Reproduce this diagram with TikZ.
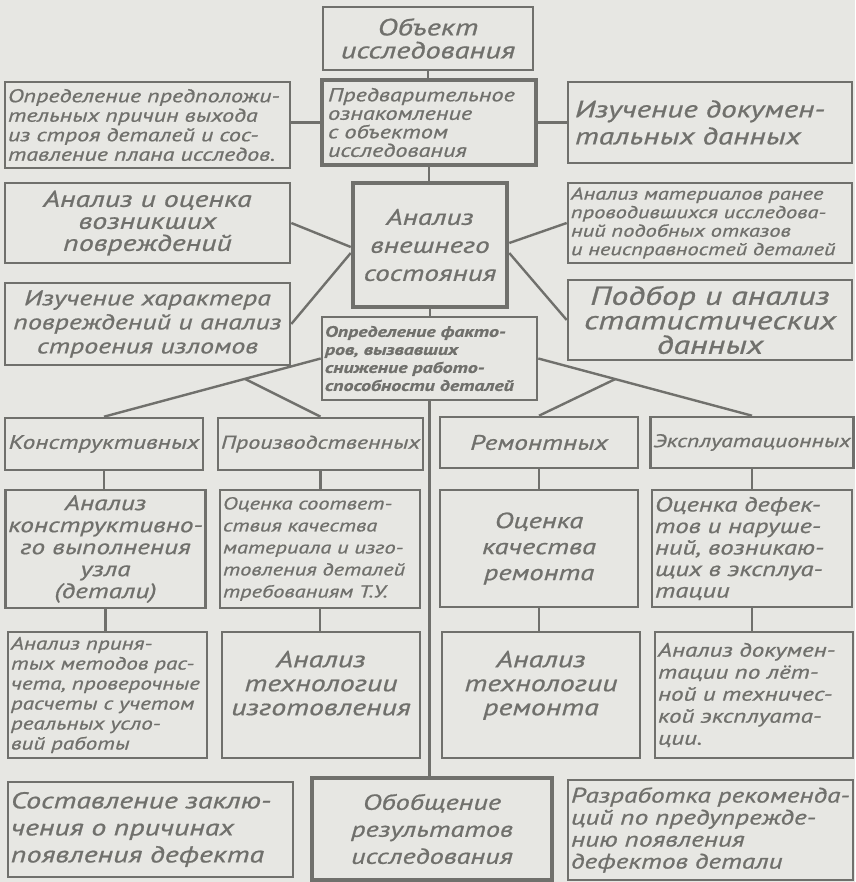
\documentclass[tikz,border=0pt]{standalone}
\usepackage{fontspec}
\newfontfamily\hw{PT Sans}[FakeStretch=1.3,FakeBold=0.8]
\usetikzlibrary{calc}
\definecolor{bg}{RGB}{231,231,227}
\definecolor{ink}{RGB}{112,112,108}
\newcommand{\Bx}[7]{\node[bx,minimum width={#4-#2},minimum height={#5-#3},#6] (#1) at ({(#2+#4)/2},{(#3+#5)/2}) {#7};}
\tikzset{
  bx/.style={draw=ink, line width=2.6pt, rectangle, inner sep=3pt, text=ink, align=center},
  thk/.style={line width=4.5pt},
  fnt/.style 2 args={font=\hw\itshape\fontsize{#1}{#2}\selectfont},
  conn/.style={draw=ink, line width=2.4pt},
}
\begin{document}
\begin{tikzpicture}[x=1pt,y=-1pt]
\useasboundingbox (0,0) rectangle (855,882);
\fill[bg] (0,0) rectangle (855,882);

\Bx{obj}{323}{7}{533}{70}{fnt={23.5}{23}}{Объект\\исследования}
\Bx{pred}{322}{80}{536}{165}{thk,fnt={18.7}{18.5},align=left,text width=202}{Предварительное\\ознакомление\\с объектом\\исследования}
\Bx{opr1}{5}{82}{290}{168}{fnt={18.5}{19.5},align=left,text width=279}{Определение предположи-\\тельных причин выхода\\из строя деталей и сос-\\тавление плана исследов.}
\Bx{izuch}{568}{82}{852}{163}{fnt={24}{27},align=left,text width=270}{Изучение докумен-\\тальных данных}
\Bx{aio}{5}{183}{290}{263}{fnt={23}{22}}{Анализ и оценка\\возникших\\повреждений}
\Bx{anvn}{353}{183}{507}{307}{thk,fnt={22.5}{28}}{Анализ\\внешнего\\состояния}
\Bx{mat}{568}{183}{852}{263}{fnt={17.3}{18.5},align=left,text width=278}{Анализ материалов ранее\\проводившихся исследова-\\ний подобных отказов\\и неисправностей деталей}
\Bx{izh}{5}{283}{290}{365}{fnt={21.5}{24}}{Изучение характера\\повреждений и анализ\\строения изломов}
\Bx{opf}{322}{317}{537}{400}{font={\hw\itshape\bfseries\fontsize{15.3}{18}\selectfont},align=left,text width=209}{Определение факто-\\ров, вызвавших\\снижение работо-\\способности деталей}
\Bx{stat}{568}{280}{852}{360}{fnt={26}{24.5}}{Подбор и анализ\\статистических\\данных}

\Bx{kon}{5}{418}{203}{470}{fnt={19.5}{20}}{Конструктивных}
\Bx{proi}{218}{418}{423}{470}{fnt={18.5}{20}}{Производственных}
\Bx{rem}{440}{417}{638}{468}{fnt={21}{20}}{Ремонтных}
\Bx{eks}{652}{417}{852}{468}{fnt={18.3}{20}}{Эксплуатационных}

\Bx{k2}{8}{490}{203}{608}{fnt={21}{22}}{Анализ\\конструктивно-\\го выполнения\\узла\\(детали)}
\Bx{p2}{220}{490}{420}{608}{fnt={17.3}{22},align=left,text width=194}{Оценка соответ-\\ствия качества\\материала и изго-\\товления деталей\\требованиям Т.У.}
\Bx{r2}{440}{490}{638}{607}{fnt={22}{26}}{Оценка\\качества\\ремонта}
\Bx{e2}{652}{490}{852}{607}{fnt={20.5}{21.5},align=left,text width=194}{Оценка дефек-\\тов и наруше-\\ний, возникаю-\\щих в эксплуа-\\тации}

\Bx{k3}{8}{632}{207}{758}{fnt={17.8}{20},align=left,text width=193}{Анализ приня-\\тых методов рас-\\чета, проверочные\\расчеты с учетом\\реальных усло-\\вий работы}
\Bx{p3}{222}{632}{420}{758}{fnt={23}{24}}{Анализ\\технологии\\изготовления\\\mbox{}}
\Bx{r3}{442}{632}{640}{758}{fnt={23}{24}}{Анализ\\технологии\\ремонта\\\mbox{}}
\Bx{e3}{655}{632}{853}{758}{fnt={19.3}{22},align=left,text width=192}{Анализ докумен-\\тации по лёт-\\ной и техничес-\\кой эксплуата-\\ции.}

\Bx{sos}{8}{782}{293}{877}{fnt={23}{27},align=left,text width=279}{Составление заклю-\\чения о причинах\\появления дефекта}
\Bx{obob}{312}{778}{552}{880}{thk,fnt={21.8}{27}}{Обобщение\\результатов\\исследования}
\Bx{raz}{568}{780}{853}{880}{fnt={21}{22},align=left,text width=279}{Разработка рекоменда-\\ций по предупрежде-\\нию появления\\дефектов детали}

\draw[conn] (obj.south) -- (obj.south |- pred.north);
\draw[conn] (pred.west) -- (pred.west -| opr1.east);
\draw[conn] (pred.east) -- (pred.east -| izuch.west);
\draw[conn] (pred.south) -- (pred.south |- anvn.north);
\draw[conn] (aio.east) -- ([yshift=-2pt]anvn.west);
\draw[conn] (izh.east) -- ([yshift=-8pt]anvn.west);
\draw[conn] ([yshift=2pt]anvn.east) -- (mat.west);
\draw[conn] ([yshift=-8pt]anvn.east) -- (stat.west);
\draw[conn] (anvn.south) -- (anvn.south |- opf.north);

\coordinate (bl) at ($(opf.west)!0.35!(kon.north)$);
\coordinate (br) at ($(opf.east)!0.36!(eks.north)$);
\draw[conn] (opf.west) -- (kon.north);
\draw[conn] (bl) -- (proi.north);
\draw[conn] (opf.east) -- (eks.north);
\draw[conn] (br) -- (rem.north);
\draw[conn] (opf.south) -- (opf.south |- obob.north);

\draw[conn] (kon.south) -- (kon.south |- k2.north);
\draw[conn] (k2.south) -- (k2.south |- k3.north);
\draw[conn] (proi.south) -- (proi.south |- p2.north);
\draw[conn] (p2.south) -- (p2.south |- p3.north);
\draw[conn] (rem.south) -- (rem.south |- r2.north);
\draw[conn] (r2.south) -- (r2.south |- r3.north);
\draw[conn] (eks.south) -- (eks.south |- e2.north);
\draw[conn] (e2.south) -- (e2.south |- e3.north);
\end{tikzpicture}
\end{document}
